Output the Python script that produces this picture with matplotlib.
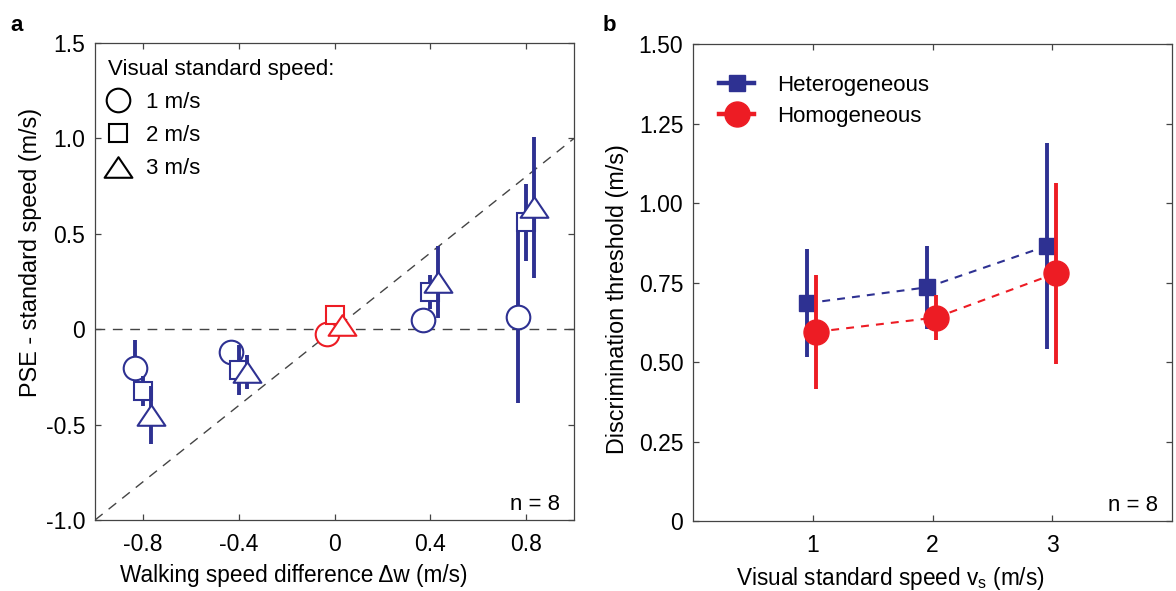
import matplotlib
matplotlib.use("Agg")
import matplotlib.pyplot as plt
from matplotlib.lines import Line2D
from matplotlib.path import Path
import numpy as np

plt.rcParams["font.family"] = ["Liberation Sans", "DejaVu Sans"]
plt.rcParams["axes.unicode_minus"] = False
plt.rcParams["font.size"] = 16

BLUE = "#2E3192"
RED = "#ED1C24"
SPINE = "#444444"

# ---------------------------------------------------------------------------
# Panel a data: PSE - standard speed vs walking speed difference
# ---------------------------------------------------------------------------
walk_diff = [-0.8, -0.4, 0.0, 0.4, 0.8]
pse_1ms = [-0.205, -0.12, -0.026, 0.05, 0.064]
pse_1ms_err = [0.146, 0.04, 0.0, 0.06, 0.45]
pse_2ms = [-0.323, -0.215, 0.073, 0.195, 0.56]
pse_2ms_err = [0.08, 0.13, 0.0, 0.09, 0.2]
pse_3ms = [-0.45, -0.223, 0.02, 0.248, 0.64]
pse_3ms_err = [0.15, 0.09, 0.0, 0.19, 0.37]
speed_labels = ["1 m/s", "2 m/s", "3 m/s"]

# ---------------------------------------------------------------------------
# Panel b data: discrimination thresholds
# ---------------------------------------------------------------------------
visual_speed = [1, 2, 3]
thr_hetero = [0.685, 0.735, 0.865]
thr_hetero_err = [0.17, 0.13, 0.325]
thr_homo = [0.595, 0.64, 0.779]
thr_homo_err = [0.18, 0.07, 0.285]

# wide, flat triangle like the original figure
tri = Path([(-1, -0.74), (1, -0.74), (0, 0.74), (-1, -0.74)],
           [Path.MOVETO, Path.LINETO, Path.LINETO, Path.CLOSEPOLY])


def style_axes(ax):
    for sp in ax.spines.values():
        sp.set_color(SPINE)
        sp.set_linewidth(0.9)
    ax.tick_params(direction="in", length=4, width=0.9, color=SPINE,
                   top=True, right=True, labelsize=16.5, pad=7)
    ax.tick_params(axis="x", pad=9)


fig = plt.figure(figsize=(11.76, 5.91), dpi=100)
ax_a = fig.add_axes([0.0808, 0.1201, 0.4073, 0.8071])
ax_b = fig.add_axes([0.5893, 0.1184, 0.4073, 0.8071])

# ---------------------------- panel a --------------------------------------
ax_a.plot([-1, 1], [0, 0], ls=(0, (7, 5.5)), color=SPINE, lw=1, zorder=1)
ax_a.plot([-1, 1], [-1, 1], ls=(0, (7, 5.5)), color=SPINE, lw=1, zorder=1)

series = [
    (pse_1ms, pse_1ms_err, "o", 17, -0.032),
    (pse_2ms, pse_2ms_err, "s", 13, 0.0),
    (pse_3ms, pse_3ms_err, tri, 20, 0.033),
]
for k, (ys, errs, mk, ms, dodge) in enumerate(series):
    for i, (x, y, e) in enumerate(zip(walk_diff, ys, errs)):
        c = RED if x == 0 else BLUE
        ax_a.errorbar(x + dodge, y, yerr=e, fmt="none", ecolor=c,
                      elinewidth=2.8, capsize=0, zorder=2 + k)
        ax_a.plot(x + dodge, y, marker=mk, ms=ms, mfc="white", mec=c,
                  mew=1.5, ls="none", zorder=2 + k)

ax_a.set_xlim(-1, 1)
ax_a.set_ylim(-1, 1.5)
ax_a.set_xticks([-0.8, -0.4, 0, 0.4, 0.8])
ax_a.set_xticklabels(["-0.8", "-0.4", "0", "0.4", "0.8"])
ax_a.set_yticks([-1.0, -0.5, 0, 0.5, 1.0, 1.5])
ax_a.set_yticklabels(["-1.0", "-0.5", "0", "0.5", "1.0", "1.5"])
ax_a.set_xlabel("Walking speed difference Δw (m/s)", fontsize=16.3, labelpad=6)
ax_a.set_ylabel("PSE - standard speed (m/s)", fontsize=16.8, labelpad=3)
ax_a.xaxis.label.set_x(0.414)
ax_a.yaxis.label.set_y(0.56)
style_axes(ax_a)

handles_a = [
    Line2D([], [], marker="o", ms=17, mfc="white", mec="black", mew=1.5, ls="none"),
    Line2D([], [], marker="s", ms=13, mfc="white", mec="black", mew=1.5, ls="none"),
    Line2D([], [], marker=tri, ms=20, mfc="white", mec="black", mew=1.5, ls="none"),
]
ax_a.legend(handles_a, speed_labels, title="Visual standard speed:",
            loc="upper left", bbox_to_anchor=(0.027, 0.967),
            frameon=False, fontsize=16, title_fontsize=16, borderpad=0,
            borderaxespad=0, handlelength=0.9, handletextpad=0.8,
            labelspacing=0.55, alignment="left")
ax_a.text(0.97, 0.033, "n = 8", transform=ax_a.transAxes, ha="right",
          va="center", fontsize=16)

# ---------------------------- panel b --------------------------------------
vs = np.array(visual_speed)
ax_b.plot(vs - 0.045, thr_hetero, ls=(0, (3.8, 3.4)), color=BLUE, lw=1.5, zorder=2)
ax_b.plot(vs + 0.03, thr_homo, ls=(0, (3.8, 3.4)), color=RED, lw=1.5, zorder=2)
ax_b.errorbar(vs - 0.045, thr_hetero, yerr=thr_hetero_err, fmt="s", ms=12,
              color=BLUE, ecolor=BLUE, elinewidth=2.8, capsize=0, zorder=3)
ax_b.errorbar(vs + 0.03, thr_homo, yerr=thr_homo_err, fmt="o", ms=18,
              color=RED, ecolor=RED, elinewidth=2.8, capsize=0, zorder=4)

ax_b.set_xlim(0, 4)
ax_b.set_ylim(0, 1.5)
ax_b.set_xticks([1, 2, 3])
ax_b.set_yticks([0, 0.25, 0.5, 0.75, 1.0, 1.25, 1.5])
ax_b.set_yticklabels(["0", "0.25", "0.50", "0.75", "1.00", "1.25", "1.50"])
ax_b.set_xlabel("Visual standard speed v$_\\mathregular{s}$ (m/s)", fontsize=16.3, labelpad=6)
ax_b.set_ylabel("Discrimination threshold (m/s)", fontsize=16.8, labelpad=7)
ax_b.xaxis.label.set_x(0.411)
ax_b.yaxis.label.set_y(0.465)
style_axes(ax_b)

handles_b = [
    Line2D([], [], marker="s", ms=12, color=BLUE, lw=3.2),
    Line2D([], [], marker="o", ms=18, color=RED, lw=3.2),
]
ax_b.legend(handles_b, ["Heterogeneous", "Homogeneous"], loc="upper left",
            bbox_to_anchor=(0.054, 0.935), frameon=False, fontsize=16,
            borderpad=0, borderaxespad=0, handlelength=1.6,
            handletextpad=1.0, labelspacing=0.45)
ax_b.text(0.97, 0.033, "n = 8", transform=ax_b.transAxes, ha="right",
          va="center", fontsize=16)

fig.text(0.009, 0.975, "a", fontsize=16, fontweight="bold", va="top")
fig.text(0.512, 0.975, "b", fontsize=16, fontweight="bold", va="top")

fig.savefig("out.png", dpi=100)
